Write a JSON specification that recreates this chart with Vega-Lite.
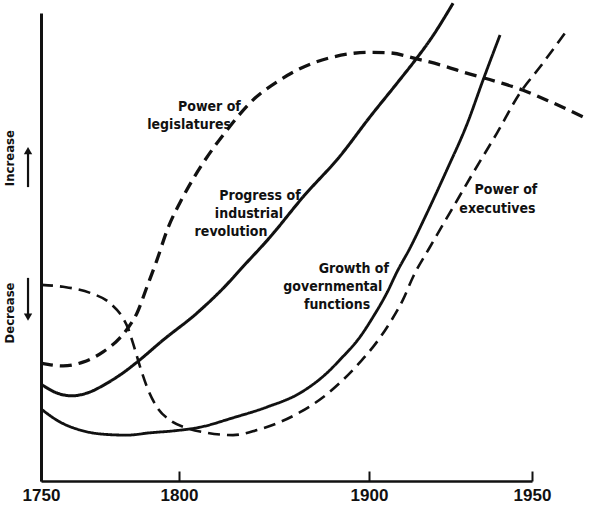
{
  "$schema": "https://vega.github.io/schema/vega-lite/v6.json",
  "description": "Schematic trends 1750-1950: power of legislatures and executives, industrial revolution, governmental functions.",
  "autosize": "none",
  "padding": {"left": 41, "top": 13, "right": 68, "bottom": 39},
  "width": 491,
  "height": 468,
  "background": "white",
  "config": {"view": {"stroke": null}},
  "datasets": {
    "curves": [
      {"series": "Power of legislatures", "year": 1750, "level": 25.2},
      {"series": "Power of legislatures", "year": 1758.0, "level": 24.6},
      {"series": "Power of legislatures", "year": 1765.2, "level": 25.4},
      {"series": "Power of legislatures", "year": 1772.5, "level": 27.6},
      {"series": "Power of legislatures", "year": 1778.6, "level": 30.6},
      {"series": "Power of legislatures", "year": 1781.5, "level": 32.7},
      {"series": "Power of legislatures", "year": 1784.8, "level": 35.9},
      {"series": "Power of legislatures", "year": 1788.4, "level": 41.5},
      {"series": "Power of legislatures", "year": 1792.0, "level": 47.2},
      {"series": "Power of legislatures", "year": 1795.7, "level": 53.6},
      {"series": "Power of legislatures", "year": 1802.1, "level": 60.7},
      {"series": "Power of legislatures", "year": 1812.6, "level": 67.9},
      {"series": "Power of legislatures", "year": 1825.3, "level": 75.0},
      {"series": "Power of legislatures", "year": 1837.4, "level": 80.8},
      {"series": "Power of legislatures", "year": 1853.2, "level": 85.7},
      {"series": "Power of legislatures", "year": 1870.5, "level": 89.3},
      {"series": "Power of legislatures", "year": 1881.1, "level": 90.6},
      {"series": "Power of legislatures", "year": 1892.0, "level": 91.4},
      {"series": "Power of legislatures", "year": 1900.0, "level": 91.6},
      {"series": "Power of legislatures", "year": 1906.0, "level": 91.5},
      {"series": "Power of legislatures", "year": 1914.7, "level": 90.2},
      {"series": "Power of legislatures", "year": 1923.9, "level": 88.5},
      {"series": "Power of legislatures", "year": 1928.8, "level": 87.4},
      {"series": "Power of legislatures", "year": 1939.3, "level": 85.3},
      {"series": "Power of legislatures", "year": 1947.3, "level": 83.5},
      {"series": "Power of legislatures", "year": 1956.4, "level": 80.8},
      {"series": "Power of legislatures", "year": 1966.3, "level": 77.6},

      {"series": "Progress of industrial revolution", "year": 1750, "level": 20.7},
      {"series": "Progress of industrial revolution", "year": 1755.8, "level": 18.8},
      {"series": "Progress of industrial revolution", "year": 1761.2, "level": 18.2},
      {"series": "Progress of industrial revolution", "year": 1766.7, "level": 18.8},
      {"series": "Progress of industrial revolution", "year": 1773.9, "level": 20.9},
      {"series": "Progress of industrial revolution", "year": 1779.7, "level": 23.1},
      {"series": "Progress of industrial revolution", "year": 1784.8, "level": 25.4},
      {"series": "Progress of industrial revolution", "year": 1794.2, "level": 30.1},
      {"series": "Progress of industrial revolution", "year": 1809.5, "level": 35.9},
      {"series": "Progress of industrial revolution", "year": 1826.8, "level": 42.7},
      {"series": "Progress of industrial revolution", "year": 1832.1, "level": 45.1},
      {"series": "Progress of industrial revolution", "year": 1847.9, "level": 52.1},
      {"series": "Progress of industrial revolution", "year": 1865.3, "level": 60.7},
      {"series": "Progress of industrial revolution", "year": 1884.7, "level": 69.4},
      {"series": "Progress of industrial revolution", "year": 1900.3, "level": 77.8},
      {"series": "Progress of industrial revolution", "year": 1908.6, "level": 85.0},
      {"series": "Progress of industrial revolution", "year": 1914.7, "level": 90.4},
      {"series": "Progress of industrial revolution", "year": 1918.7, "level": 94.2},
      {"series": "Progress of industrial revolution", "year": 1925.8, "level": 102.1},

      {"series": "Growth of governmental functions", "year": 1750, "level": 15.4},
      {"series": "Growth of governmental functions", "year": 1756.9, "level": 12.6},
      {"series": "Growth of governmental functions", "year": 1764.1, "level": 10.9},
      {"series": "Growth of governmental functions", "year": 1772.5, "level": 10.0},
      {"series": "Growth of governmental functions", "year": 1781.2, "level": 9.8},
      {"series": "Growth of governmental functions", "year": 1789.5, "level": 10.3},
      {"series": "Growth of governmental functions", "year": 1797.8, "level": 10.7},
      {"series": "Growth of governmental functions", "year": 1811.1, "level": 11.5},
      {"series": "Growth of governmental functions", "year": 1828.4, "level": 13.5},
      {"series": "Growth of governmental functions", "year": 1846.3, "level": 15.8},
      {"series": "Growth of governmental functions", "year": 1863.7, "level": 18.8},
      {"series": "Growth of governmental functions", "year": 1877.9, "level": 23.1},
      {"series": "Growth of governmental functions", "year": 1884.7, "level": 25.9},
      {"series": "Growth of governmental functions", "year": 1895.3, "level": 30.8},
      {"series": "Growth of governmental functions", "year": 1901.2, "level": 35.0},
      {"series": "Growth of governmental functions", "year": 1905.5, "level": 40.2},
      {"series": "Growth of governmental functions", "year": 1908.6, "level": 44.7},
      {"series": "Growth of governmental functions", "year": 1912.6, "level": 49.8},
      {"series": "Growth of governmental functions", "year": 1917.2, "level": 56.4},
      {"series": "Growth of governmental functions", "year": 1923.9, "level": 66.5},
      {"series": "Growth of governmental functions", "year": 1930.1, "level": 76.3},
      {"series": "Growth of governmental functions", "year": 1935.0, "level": 85.7},
      {"series": "Growth of governmental functions", "year": 1940.2, "level": 95.3},

      {"series": "Power of executives", "year": 1750, "level": 41.9},
      {"series": "Power of executives", "year": 1758.0, "level": 41.5},
      {"series": "Power of executives", "year": 1767.8, "level": 40.2},
      {"series": "Power of executives", "year": 1775.0, "level": 38.0},
      {"series": "Power of executives", "year": 1779.7, "level": 34.8},
      {"series": "Power of executives", "year": 1781.5, "level": 32.7},
      {"series": "Power of executives", "year": 1783.3, "level": 29.5},
      {"series": "Power of executives", "year": 1785.9, "level": 24.4},
      {"series": "Power of executives", "year": 1788.4, "level": 20.1},
      {"series": "Power of executives", "year": 1792.0, "level": 15.8},
      {"series": "Power of executives", "year": 1796.7, "level": 13.0},
      {"series": "Power of executives", "year": 1804.2, "level": 11.3},
      {"series": "Power of executives", "year": 1814.7, "level": 10.3},
      {"series": "Power of executives", "year": 1828.4, "level": 9.8},
      {"series": "Power of executives", "year": 1841.1, "level": 10.9},
      {"series": "Power of executives", "year": 1853.2, "level": 12.6},
      {"series": "Power of executives", "year": 1863.7, "level": 14.7},
      {"series": "Power of executives", "year": 1875.8, "level": 17.9},
      {"series": "Power of executives", "year": 1886.3, "level": 21.6},
      {"series": "Power of executives", "year": 1895.3, "level": 25.4},
      {"series": "Power of executives", "year": 1901.2, "level": 28.6},
      {"series": "Power of executives", "year": 1906.4, "level": 33.8},
      {"series": "Power of executives", "year": 1910.4, "level": 38.7},
      {"series": "Power of executives", "year": 1913.5, "level": 43.6},
      {"series": "Power of executives", "year": 1918.7, "level": 50.0},
      {"series": "Power of executives", "year": 1925.8, "level": 58.5},
      {"series": "Power of executives", "year": 1931.9, "level": 65.8},
      {"series": "Power of executives", "year": 1939.3, "level": 74.4},
      {"series": "Power of executives", "year": 1946.3, "level": 82.9},
      {"series": "Power of executives", "year": 1952.5, "level": 88.5},
      {"series": "Power of executives", "year": 1960.1, "level": 95.7}
    ],
    "labels": [
      {"text": "Power of", "year": 1816.0, "level": 79.9},
      {"text": "legislatures", "year": 1805.3, "level": 76.1},
      {"text": "Progress of", "year": 1842.6, "level": 61.0},
      {"text": "industrial", "year": 1836.8, "level": 57.1},
      {"text": "revolution", "year": 1827.4, "level": 53.1},
      {"text": "Growth of", "year": 1892.0, "level": 45.3},
      {"text": "governmental", "year": 1881.0, "level": 41.5},
      {"text": "functions", "year": 1883.2, "level": 37.6},
      {"text": "Power of", "year": 1942.0, "level": 62.2},
      {"text": "executives", "year": 1939.4, "level": 58.2}
    ],
    "sides": [
      {"text": "Increase", "year": 1738.8, "level": 69.0},
      {"text": "Decrease", "year": 1738.8, "level": 35.9}
    ],
    "arrows": [
      {"dir": "up", "year": 1745.3, "from": 62.8, "to": 70.6},
      {"dir": "down", "year": 1745.3, "from": 43.4, "to": 35.0}
    ]
  },
  "layer": [
    {
      "data": {"name": "curves"},
      "mark": {"type": "line", "interpolate": "monotone", "color": "#111", "strokeCap": "butt"},
      "encoding": {
        "x": {
          "field": "year",
          "type": "quantitative",
          "scale": {"domain": [1750, 1800, 1900, 1950], "range": [0, 138, 328, 491], "nice": false, "zero": false},
          "axis": {
            "values": [1750, 1800, 1900, 1950],
            "format": "d",
            "title": null,
            "grid": false,
            "domainColor": "#111",
            "domainWidth": 2.5,
            "tickColor": "#111",
            "tickWidth": 2,
            "tickSize": -10,
            "labelPadding": 16,
            "labelFont": "Liberation Sans",
            "labelFontWeight": "bold",
            "labelFontSize": 17,
            "labelColor": "#111",
            "labelFlush": false
          }
        },
        "y": {
          "field": "level",
          "type": "quantitative",
          "scale": {"domain": [0, 100], "nice": false, "zero": false},
          "axis": {"title": null, "ticks": false, "labels": false, "grid": false, "domainColor": "#111", "domainWidth": 3}
        },
        "strokeDash": {
          "field": "series",
          "type": "nominal",
          "scale": {
            "domain": ["Power of legislatures", "Progress of industrial revolution", "Growth of governmental functions", "Power of executives"],
            "range": [[12, 7], [1, 0], [1, 0], [12, 7]]
          },
          "legend": null
        },
        "strokeWidth": {
          "field": "series",
          "type": "nominal",
          "scale": {
            "domain": ["Power of legislatures", "Progress of industrial revolution", "Growth of governmental functions", "Power of executives"],
            "range": [3.3, 2.6, 2.6, 3.3]
          },
          "legend": null
        }
      }
    },
    {
      "data": {"name": "labels"},
      "mark": {"type": "text", "font": "Liberation Sans Narrow, DejaVu Sans Condensed, Liberation Sans", "fontWeight": "bold", "fontSize": 14, "color": "#111", "align": "center", "baseline": "middle"},
      "encoding": {
        "x": {"field": "year", "type": "quantitative"},
        "y": {"field": "level", "type": "quantitative"},
        "text": {"field": "text"}
      }
    },
    {
      "data": {"name": "sides"},
      "mark": {"type": "text", "angle": 270, "font": "Liberation Sans Narrow, DejaVu Sans Condensed, Liberation Sans", "fontWeight": "bold", "fontSize": 13, "color": "#111", "align": "center", "baseline": "middle"},
      "encoding": {
        "x": {"field": "year", "type": "quantitative"},
        "y": {"field": "level", "type": "quantitative"},
        "text": {"field": "text"}
      }
    },
    {
      "data": {"name": "arrows"},
      "mark": {"type": "rule", "color": "#111", "strokeWidth": 2.2},
      "encoding": {
        "x": {"field": "year", "type": "quantitative"},
        "y": {"field": "from", "type": "quantitative"},
        "y2": {"field": "to"}
      }
    },
    {
      "data": {"name": "arrows"},
      "mark": {"type": "point", "filled": true, "color": "#111", "size": 70, "opacity": 1},
      "encoding": {
        "x": {"field": "year", "type": "quantitative"},
        "y": {"field": "to", "type": "quantitative"},
        "shape": {"field": "dir", "type": "nominal", "scale": {"domain": ["up", "down"], "range": ["triangle-up", "triangle-down"]}, "legend": null}
      }
    }
  ]
}
